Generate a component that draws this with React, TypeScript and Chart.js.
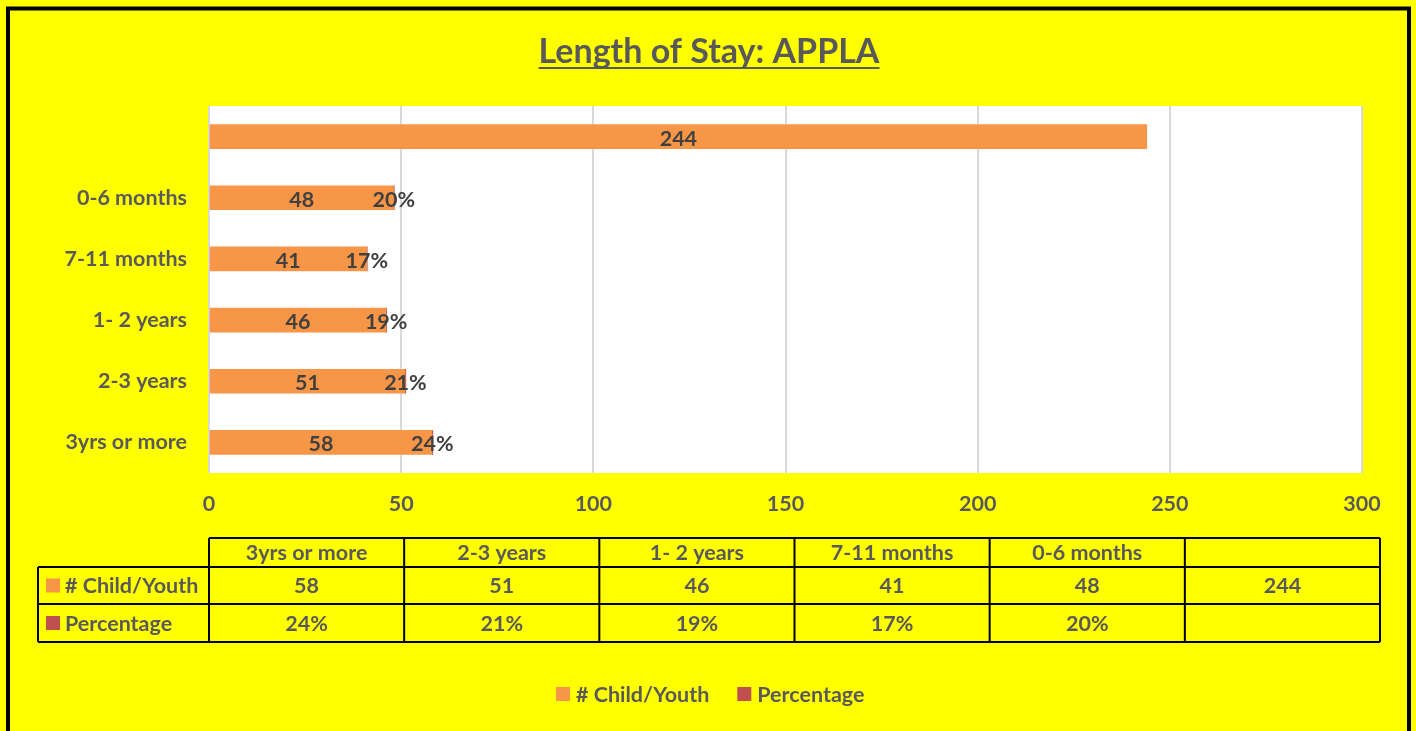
import React, { useEffect, useRef } from "react";
import { Chart, registerables } from "chart.js";

Chart.register(...registerables);

// Categories in the source order (first category is drawn at the bottom)
const CATEGORIES = ["3yrs or more", "2-3 years", "1- 2 years", "7-11 months", "0-6 months", ""];
const CHILD_YOUTH = [58, 51, 46, 41, 48, 244];
const PERCENTAGE: (number | null)[] = [0.24, 0.21, 0.19, 0.17, 0.2, null];
const X_MIN = 0;
const X_MAX = 300;
const X_STEP = 50;
const TITLE = "Length of Stay: APPLA";
const SERIES_NAMES = ["# Child/Youth", "Percentage"];
const SERIES_COLORS = ["#F79646", "#C0504D"];

const FONT = "Lato, 'Open Sans', sans-serif";
const FS = 21.5;
const TEXT = "#595959";
const LABEL = "#404040";

const fmtPct = (v: number | null) => (v === null || v === undefined ? "" : Math.round(v * 100) + "%");

const decorPlugin = {
  id: "decor",
  beforeDraw(chart: any) {
    const { ctx, width, height, chartArea } = chart;
    ctx.save();
    ctx.fillStyle = "#FFFF00";
    ctx.fillRect(0, 0, width, height);
    // outer border
    ctx.strokeStyle = "#000";
    ctx.lineWidth = 4;
    ctx.strokeRect(8, 8.5, 1401, height + 20);
    // plot area
    ctx.fillStyle = "#FFFFFF";
    ctx.fillRect(chartArea.left, chartArea.top, chartArea.right - chartArea.left, chartArea.bottom - chartArea.top);
    // title
    ctx.fillStyle = TEXT;
    ctx.font = `bold 34px ${FONT}`;
    ctx.textAlign = "center";
    ctx.textBaseline = "alphabetic";
    const tx = 709;
    const ty = 63;
    ctx.fillText(TITLE, tx, ty);
    const tw = ctx.measureText(TITLE).width;
    ctx.fillRect(tx - tw / 2, ty + 4, tw, 2);
    ctx.restore();
  },
  afterDraw(chart: any) {
    const { ctx } = chart;
    ctx.save();
    // data table
    const colLeft = 209;
    const colRight = 1380;
    const nCols = CATEGORIES.length;
    const colW = (colRight - colLeft) / nCols;
    const rows = [538, 567, 604, 642];
    const firstLeft = 38;
    ctx.strokeStyle = "#000";
    ctx.lineWidth = 2;
    ctx.beginPath();
    ctx.moveTo(colLeft, rows[0]);
    ctx.lineTo(colRight, rows[0]);
    for (let i = 1; i < rows.length; i++) {
      ctx.moveTo(firstLeft, rows[i]);
      ctx.lineTo(colRight, rows[i]);
    }
    ctx.moveTo(firstLeft, rows[1]);
    ctx.lineTo(firstLeft, rows[3]);
    for (let c = 0; c <= nCols; c++) {
      const x = colLeft + c * colW;
      ctx.moveTo(x, rows[0]);
      ctx.lineTo(x, rows[3]);
    }
    ctx.stroke();

    ctx.fillStyle = TEXT;
    ctx.font = `bold ${FS}px ${FONT}`;
    ctx.textAlign = "center";
    ctx.textBaseline = "middle";
    for (let c = 0; c < nCols; c++) {
      const cx = colLeft + (c + 0.5) * colW;
      ctx.fillText(CATEGORIES[c], cx, (rows[0] + rows[1]) / 2 + 1);
      ctx.fillText(String(CHILD_YOUTH[c]), cx, (rows[1] + rows[2]) / 2 + 1);
      ctx.fillText(fmtPct(PERCENTAGE[c]), cx, (rows[2] + rows[3]) / 2 + 1);
    }
    ctx.textAlign = "left";
    for (let r = 0; r < 2; r++) {
      const cy = (rows[r + 1] + rows[r + 2]) / 2;
      ctx.fillStyle = SERIES_COLORS[r];
      ctx.fillRect(46, cy - 7, 14, 14);
      ctx.fillStyle = TEXT;
      ctx.fillText(SERIES_NAMES[r], 65, cy + 1);
    }
    // legend
    const ly = 694;
    let lx = 556;
    for (let r = 0; r < 2; r++) {
      ctx.fillStyle = SERIES_COLORS[r];
      ctx.fillRect(lx, ly - 7, 14, 14);
      ctx.fillStyle = TEXT;
      ctx.fillText(SERIES_NAMES[r], lx + 20, ly + 1);
      lx += 20 + ctx.measureText(SERIES_NAMES[r]).width + 28;
    }
    ctx.restore();
  },
};

const labelPlugin = {
  id: "barLabels",
  afterDatasetsDraw(chart: any) {
    const { ctx } = chart;
    ctx.save();
    ctx.font = `bold ${FS}px ${FONT}`;
    ctx.fillStyle = LABEL;
    ctx.textAlign = "center";
    ctx.textBaseline = "middle";
    chart.data.datasets.forEach((ds: any, di: number) => {
      const meta = chart.getDatasetMeta(di);
      meta.data.forEach((el: any, i: number) => {
        const v = ds.data[i];
        if (v === null || v === undefined) return;
        const { x, y, base } = el.getProps(["x", "y", "base"], true);
        const text = di === 0 ? String(v) : fmtPct(v);
        ctx.fillText(text, (x + base) / 2, y + 2);
      });
    });
    ctx.restore();
  },
};

export default function App() {
  const ref = useRef<HTMLCanvasElement | null>(null);
  useEffect(() => {
    if (!ref.current) return;
    const chart = new Chart(ref.current, {
      type: "bar",
      data: {
        labels: CATEGORIES,
        datasets: [
          {
            label: SERIES_NAMES[0],
            data: CHILD_YOUTH,
            backgroundColor: SERIES_COLORS[0],
            barThickness: 24,
          },
          {
            label: SERIES_NAMES[1],
            data: PERCENTAGE as any,
            backgroundColor: SERIES_COLORS[1],
            barThickness: 24,
          },
        ],
      },
      options: {
        indexAxis: "y",
        responsive: false,
        animation: false,
        layout: { padding: { left: 0, top: 106, right: 54, bottom: 208 } },
        plugins: {
          legend: { display: false },
          title: { display: false },
          tooltip: { enabled: false },
        },
        scales: {
          x: {
            stacked: true,
            min: X_MIN,
            max: X_MAX,
            ticks: {
              stepSize: X_STEP,
              color: TEXT,
              font: { family: FONT, size: FS, weight: "bold" },
              padding: 18,
            },
            grid: { color: "#D9D9D9", lineWidth: 2, drawTicks: false },
            border: { display: false },
            afterFit: (scale: any) => {
              scale.height = 50;
            },
          },
          y: {
            stacked: true,
            reverse: true,
            ticks: {
              color: TEXT,
              font: { family: FONT, size: FS, weight: "bold" },
              padding: 22,
            },
            grid: { display: false, drawTicks: false },
            border: { display: false },
            afterFit: (scale: any) => {
              scale.width = 209;
            },
          },
        },
      } as any,
      plugins: [decorPlugin, labelPlugin],
    });
    return () => chart.destroy();
  }, []);
  return (
    <div style={{ position: "fixed", left: 0, top: 0, width: 1416, height: 731 }}>
      <canvas ref={ref} width={1416} height={731} style={{ display: "block" }} />
    </div>
  );
}
